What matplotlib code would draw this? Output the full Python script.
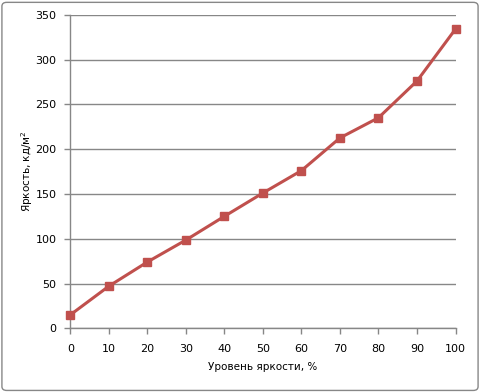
import numpy as np
import matplotlib
matplotlib.use("Agg")
import matplotlib.pyplot as plt
from matplotlib.patches import FancyBboxPatch

level = [0, 10, 20, 30, 40, 50, 60, 70, 80, 90, 100]
brightness = [15, 47, 74, 98.5, 125, 151, 176, 212.5, 235, 276, 334]

plt.rcParams['font.family'] = ['DejaVu Sans']

fig = plt.figure(figsize=(4.8, 3.92), dpi=100)
ax = fig.add_axes([0.1465, 0.1625, 0.8025, 0.8])

ax.plot(level, brightness, color="#C0504D", lw=2.2, marker="s", ms=6,
        markeredgecolor="#C0504D", zorder=3, clip_on=False)

ax.set_xlim(0, 100)
ax.set_ylim(0, 350)
ax.set_xticks(range(0, 101, 10))
ax.set_yticks(range(0, 351, 50))
ax.grid(axis="y", color="#878787", lw=1)
ax.set_axisbelow(True)

for s in ["top", "right"]:
    ax.spines[s].set_visible(False)
for s in ["left", "bottom"]:
    ax.spines[s].set_color("#878787")
    ax.spines[s].set_linewidth(1)

ax.tick_params(colors="#878787", labelcolor="black", labelsize=8, length=4, width=1)
ax.tick_params(axis="y", pad=6)
ax.tick_params(axis="x", pad=7)

ax.set_xlabel("Уровень яркости, %", fontsize=7.5, labelpad=6)
ax.set_ylabel("Яркость, кд/м$^2$", fontsize=7.5)
ax.yaxis.set_label_coords(-0.092, 0.5)

border = FancyBboxPatch((0.004, 0.004), 0.992, 0.99, boxstyle="round,pad=0,rounding_size=0.01",
                        transform=fig.transFigure, fill=False, edgecolor="#878787", lw=1)
fig.patches.append(border)

fig.savefig("out.png", dpi=100)
